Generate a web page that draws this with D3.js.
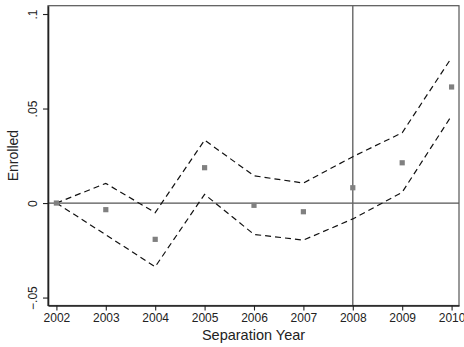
<!DOCTYPE html>
<html><head><meta charset="utf-8">
<script src="https://cdn.jsdelivr.net/npm/d3@7"></script>
<style>body{margin:0;background:#fff}svg{display:block}</style>
</head><body>
<svg id="c" width="464" height="347"></svg>
<script>
const years = [2002,2003,2004,2005,2006,2007,2008,2009,2010];
const estimate = [0,-0.0035,-0.0192,0.0187,-0.0012,-0.0046,0.0081,0.0213,0.0614];
const upper = [0,0.0104,-0.0051,0.0333,0.0144,0.0106,0.0245,0.0372,0.0769];
const lower = [0,-0.0168,-0.0337,0.0046,-0.0166,-0.0196,-0.0084,0.0057,0.0462];
const yTicks = [-0.05,0,0.05,0.1];
const yTickLabels = ["\u2212.05","0",".05",".1"];
const xLabel = "Separation Year";
const yLabel = "Enrolled";
const eventYear = 2008;

const L=48,R=459,T=5.7,B=305.5;
const svg=d3.select("#c");
const x=d3.scaleLinear().domain([2001.83,2010.15]).range([L,R]);
const y=d3.scaleLinear().domain([-0.0542,0.1044]).range([B,T]);
const font="Liberation Sans, Arial, Helvetica, sans-serif";

// frame
svg.append("rect").attr("x",L).attr("y",T).attr("width",R-L).attr("height",B-T)
  .attr("fill","none").attr("stroke","#555").attr("stroke-width",1.2);

// reference lines
svg.append("line").attr("x1",L).attr("x2",R).attr("y1",y(0)).attr("y2",y(0))
  .attr("stroke","#555").attr("stroke-width",1.2);
svg.append("line").attr("x1",x(eventYear)).attr("x2",x(eventYear)).attr("y1",T).attr("y2",B)
  .attr("stroke","#666").attr("stroke-width",1.4);

// CI dashed lines
const line=d3.line().x((d,i)=>x(years[i])).y(d=>y(d));
[upper,lower].forEach(s=>{
  svg.append("path").attr("d",line(s)).attr("fill","none").attr("stroke","#111")
    .attr("stroke-width",1.2).attr("stroke-dasharray","6,4");
});

// points
svg.selectAll("rect.pt").data(estimate).enter().append("rect").attr("class","pt")
  .attr("x",(d,i)=>x(years[i])-2.6).attr("y",d=>y(d)-2.6).attr("width",5.2).attr("height",5.2)
  .attr("fill","#808080");

// axes
const xa=svg.append("g").attr("transform",`translate(0,${B})`)
  .call(d3.axisBottom(x).tickValues(years).tickFormat(d3.format("d")).tickSize(5).tickSizeOuter(0));
xa.select(".domain").attr("stroke","#222").attr("stroke-width",1.6);
xa.selectAll(".tick line").attr("stroke","#222").attr("stroke-width",1.1);
xa.selectAll(".tick text").attr("font-family",font).attr("font-size",12).attr("fill","#222").attr("dy","0.95em").attr("y",5);

const ya=svg.append("g").attr("transform",`translate(${L},0)`)
  .call(d3.axisLeft(y).tickValues(yTicks).tickFormat((d,i)=>yTickLabels[i]).tickSize(5).tickSizeOuter(0));
ya.select(".domain").attr("stroke","#222").attr("stroke-width",1.6);
ya.selectAll(".tick line").attr("stroke","#222").attr("stroke-width",1.1);
ya.selectAll(".tick text").attr("font-family",font).attr("font-size",12).attr("fill","#222")
  .attr("x",null).attr("dy",null)
  .attr("text-anchor","middle")
  .attr("transform","translate(-11,0) rotate(-90)");

svg.append("text").attr("x",(L+R)/2).attr("y",339.5).attr("text-anchor","middle")
  .attr("font-family",font).attr("font-size",14.5).attr("fill","#222").text(xLabel);
svg.append("text").attr("transform",`translate(18,${(T+B)/2}) rotate(-90)`).attr("text-anchor","middle")
  .attr("font-family",font).attr("font-size",14).attr("fill","#222").text(yLabel);
</script>
</body></html>
